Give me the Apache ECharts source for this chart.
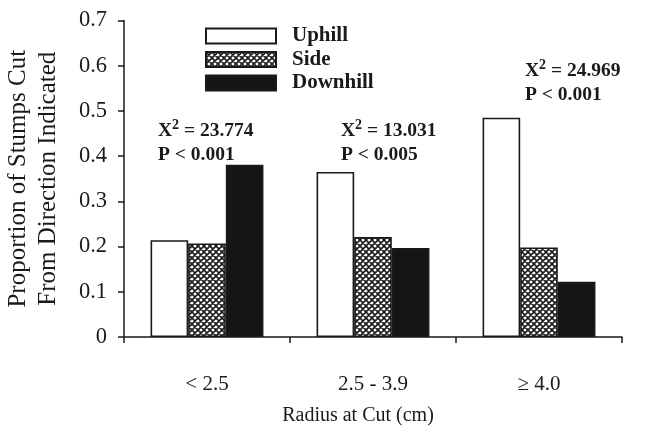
<!DOCTYPE html>
<html><head><meta charset="utf-8">
<script src="https://cdn.jsdelivr.net/npm/echarts@6/dist/echarts.min.js"></script>
<style>html,body{margin:0;padding:0;background:#fff}#c{width:654px;height:426px}</style>
</head><body><div id="c"></div>
<script>
var categories = ['< 2.5', '2.5 - 3.9', '\u2265 4.0'];
var uphill = [0.214, 0.365, 0.485];
var side = [0.207, 0.221, 0.198];
var downhill = [0.381, 0.197, 0.122];
var seriesNames = ['Uphill', 'Side', 'Downhill'];
var chiValues = ['23.774', '13.031', '24.969'];
var pLabels = ['P < 0.001', 'P < 0.005', 'P < 0.001'];

var FONT = "'Liberation Serif', 'Times New Roman', serif";

function hatch() {
  var c = document.createElement('canvas');
  c.width = 6; c.height = 6;
  var g = c.getContext('2d');
  g.fillStyle = '#fff'; g.fillRect(0, 0, 6, 6);
  g.strokeStyle = '#1a1a1a'; g.lineWidth = 1.6;
  g.beginPath();
  g.moveTo(-1, -1); g.lineTo(7, 7);
  g.moveTo(7, -1); g.lineTo(-1, 7);
  g.moveTo(5, -1); g.lineTo(7, 1);
  g.moveTo(-1, 5); g.lineTo(1, 7);
  g.moveTo(-1, 1); g.lineTo(1, -1);
  g.moveTo(5, 7); g.lineTo(7, 5);
  g.stroke();
  return c;
}

var chart = echarts.init(document.getElementById('c'), null, {renderer: 'canvas'});
var border = {borderColor: '#1a1a1a', borderWidth: 1.6};
var annX = [158, 341, 525];
var annY = [118, 118, 58];
var rich = {
  x: {font: 'bold 19.5px ' + FONT, fill: '#1a1a1a', lineHeight: 26},
  s: {font: 'bold 14px ' + FONT, fill: '#1a1a1a', lineHeight: 12, verticalAlign: 'top'},
  p: {font: 'bold 19.5px ' + FONT, fill: '#1a1a1a', lineHeight: 21}
};
var graphics = [];
for (var i = 0; i < 3; i++) {
  graphics.push({type: 'text', left: annX[i], top: annY[i],
    style: {text: '{x|X}{s|2}{x| = ' + chiValues[i] + '}\n{p|' + pLabels[i] + '}', rich: rich, font: 'bold 19.5px ' + FONT, fill: '#1a1a1a'}});
}

chart.setOption({
  animation: false,
  backgroundColor: '#fff',
  textStyle: {fontFamily: FONT},
  grid: {left: 124, right: 32, top: 20.4, bottom: 89, outerBoundsMode: 'none', containLabel: false},
  legend: {
    orient: 'vertical', left: 200, top: 20.5,
    itemWidth: 70, itemHeight: 15, itemGap: 2.5,
    icon: 'rect',
    data: seriesNames,
    textStyle: {fontFamily: FONT, fontWeight: 'bold', fontSize: 21, color: '#1a1a1a', padding: [0, 0, 0, 11]}
  },
  xAxis: {
    type: 'category', data: categories,
    name: 'Radius at Cut (cm)', nameLocation: 'middle', nameGap: 69,
    nameTextStyle: {fontFamily: FONT, fontSize: 20, color: '#1a1a1a', padding: [0, 30, 0, 0]},
    axisLine: {lineStyle: {color: '#1a1a1a', width: 1.5}},
    axisTick: {show: true, length: 6, lineStyle: {color: '#1a1a1a', width: 1.5}},
    axisLabel: {fontFamily: FONT, fontSize: 21, color: '#1a1a1a', margin: 37}
  },
  yAxis: {
    type: 'value', min: 0, max: 0.7, interval: 0.1,
    name: 'Proportion of Stumps Cut\nFrom Direction Indicated',
    nameLocation: 'middle', nameGap: 61,
    nameTextStyle: {fontFamily: FONT, fontSize: 25, color: '#1a1a1a', lineHeight: 30},
    axisLine: {show: true, lineStyle: {color: '#1a1a1a', width: 1.5}},
    axisTick: {show: true, length: 6, lineStyle: {color: '#1a1a1a', width: 1.5}},
    splitLine: {show: false},
    axisLabel: {fontFamily: FONT, fontSize: 22.5, color: '#1a1a1a', margin: 17,
      formatter: function (v) { return v === 0 ? '0' : v.toFixed(1); }}
  },
  series: [
    {name: seriesNames[0], type: 'bar', data: uphill, barGap: '0%', barCategoryGap: '32%',
     itemStyle: Object.assign({color: '#fff'}, border)},
    {name: seriesNames[1], type: 'bar', data: side,
     itemStyle: Object.assign({color: {image: hatch(), repeat: 'repeat'}}, border)},
    {name: seriesNames[2], type: 'bar', data: downhill,
     itemStyle: Object.assign({color: '#151515'}, border)}
  ],
  graphic: graphics
});
</script></body></html>
